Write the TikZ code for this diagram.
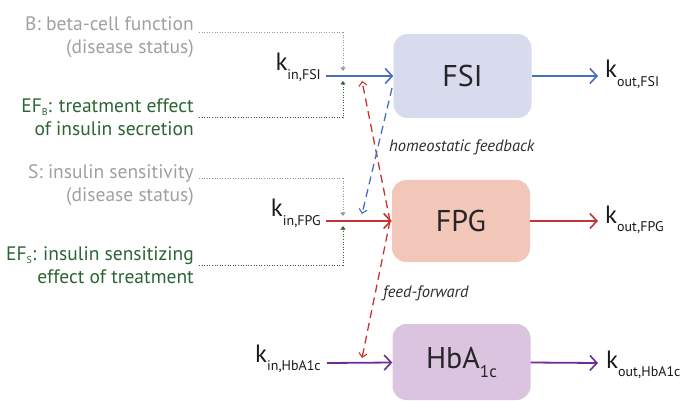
\documentclass[tikz,border=0pt]{standalone}
\usepackage{fontspec}
\setmainfont{PT Sans}
\usetikzlibrary{arrows.meta}

\definecolor{fsiblue}{RGB}{70,112,190}
\definecolor{fpgred}{RGB}{200,52,52}
\definecolor{hbpurple}{RGB}{112,44,150}
\definecolor{fsifill}{RGB}{216,218,237}
\definecolor{fpgfill}{RGB}{242,199,186}
\definecolor{hbfill}{RGB}{219,196,223}
\definecolor{statusgray}{RGB}{160,160,160}
\definecolor{dotgray}{RGB}{150,150,150}
\definecolor{effgreen}{RGB}{44,100,52}
\definecolor{labeldark}{RGB}{45,45,45}

% rate constant k with a lowered subscript
\newcommand{\rateconst}[1]{{\fontsize{25}{25}\selectfont k}\raisebox{-8.5pt}{\fontsize{14}{14}\selectfont #1}}

\tikzset{
  state/.style={rounded corners=14pt, minimum width=138pt, minimum height=84pt,
    inner sep=0pt, font=\fontsize{30}{30}\selectfont, text=black!85},
  rate/.style={inner sep=0pt, text=black!90},
  flow/.style={line width=1.8pt, -{Straight Barb[length=7pt,width=15pt,line width=1.6pt]}},
  fbline/.style={line width=1.3pt, dash pattern=on 8pt off 5pt,
    -{Straight Barb[length=4pt,width=8pt,line width=1.1pt]}},
  inflline/.style={line width=1pt, dash pattern=on 1pt off 1.6pt,
    -{Triangle[length=3.5pt,width=5pt]}},
  sidetext/.style={align=right, anchor=east, inner sep=0pt,
    font=\fontsize{19.5}{23}\selectfont},
  loopnote/.style={anchor=west, inner sep=0pt, text=labeldark,
    font=\fontsize{16.5}{16.5}\selectfont\itshape},
}

\begin{document}
\begin{tikzpicture}[x=1pt,y=1pt]
\useasboundingbox (0,0) rectangle (694,-401);

% compartments
\node[state, fill=fsifill] (FSI) at (462.5,-76) {FSI};
\node[state, fill=fpgfill, minimum height=82pt] (FPG) at (461,-221) {FPG};
\node[state, fill=hbfill, minimum height=76pt] (HB) at (461.5,-362)
  {HbA\raisebox{-9pt}{\fontsize{17}{17}\selectfont 1c}};

% production and elimination rates
\node[rate, anchor=base east] (kinFSI) at (321,-71) {\rateconst{in,FSI}};
\node[rate, anchor=base east] (kinFPG) at (321,-217) {\rateconst{in,FPG}};
\node[rate, anchor=base east] (kinHB) at (321,-362) {\rateconst{in,HbA1c}};
\node[rate, anchor=base west] (koutFSI) at (605,-78) {\rateconst{out,FSI}};
\node[rate, anchor=base west] (koutFPG) at (605,-223) {\rateconst{out,FPG}};
\node[rate, anchor=base west] (koutHB) at (606,-368) {\rateconst{out,HbA1c}};

\coordinate (inFSI) at (326,-76);
\coordinate (inFPG) at (326,-221);
\coordinate (inHB) at (327,-363);
\coordinate (outFSI) at (598,-76);
\coordinate (outFPG) at (598,-221);
\coordinate (outHB) at (598,-363);

\draw[flow, fsiblue] (inFSI) -- (FSI);
\draw[flow, fsiblue] (FSI) -- (outFSI);
\draw[flow, fpgred] (inFPG) -- (FPG);
\draw[flow, fpgred] (FPG) -- (outFPG);
\draw[flow, hbpurple] (inHB) -- (HB);
\draw[flow, hbpurple] (HB) -- (outHB);

% disease status and treatment effects
\node[sidetext, text=statusgray] (Btxt) at (194,-37)
  {B: beta-cell function\\(disease status)};
\node[sidetext, text=effgreen] (EFBtxt) at (194,-117)
  {EF\raisebox{-3pt}{\fontsize{10}{10}\selectfont B}: treatment effect\\of insulin secretion};
\node[sidetext, text=statusgray] (Stxt) at (194,-185)
  {S: insulin sensitivity\\(disease status)};
\node[sidetext, text=effgreen] (EFStxt) at (194,-265)
  {EF\raisebox{-3pt}{\fontsize{10}{10}\selectfont S}: insulin sensitizing\\effect of treatment};

\coordinate (Bsrc) at (199,-33);
\coordinate (Btip) at (343,-71);
\coordinate (EFBsrc) at (199,-118);
\coordinate (EFBtip) at (343,-81);
\coordinate (Ssrc) at (199,-179);
\coordinate (Stip) at (343,-216);
\coordinate (EFSsrc) at (199,-265);
\coordinate (EFStip) at (343,-226);

\draw[inflline, dotgray] (Bsrc) -| (Btip);
\draw[inflline, effgreen] (EFBsrc) -| (EFBtip);
\draw[inflline, dotgray] (Ssrc) -| (Stip);
\draw[inflline, effgreen] (EFSsrc) -| (EFStip);

% feedback and feed-forward links
\coordinate (ffsrc) at (390,-221);
\coordinate (ffFSI) at (362,-81);
\coordinate (ffHB) at (362,-358);
\coordinate (hfsrc) at (392,-88);
\coordinate (hfFPG) at (362,-214);

\draw[fbline, fpgred] (ffsrc) -- (ffFSI);
\draw[fbline, fpgred] (ffsrc) -- (ffHB);
\draw[fbline, fsiblue] (hfsrc) -- (hfFPG);

\node[loopnote] (hflabel) at (389,-147) {homeostatic feedback};
\node[loopnote] (fflabel) at (383,-293) {feed-forward};
\end{tikzpicture}
\end{document}
